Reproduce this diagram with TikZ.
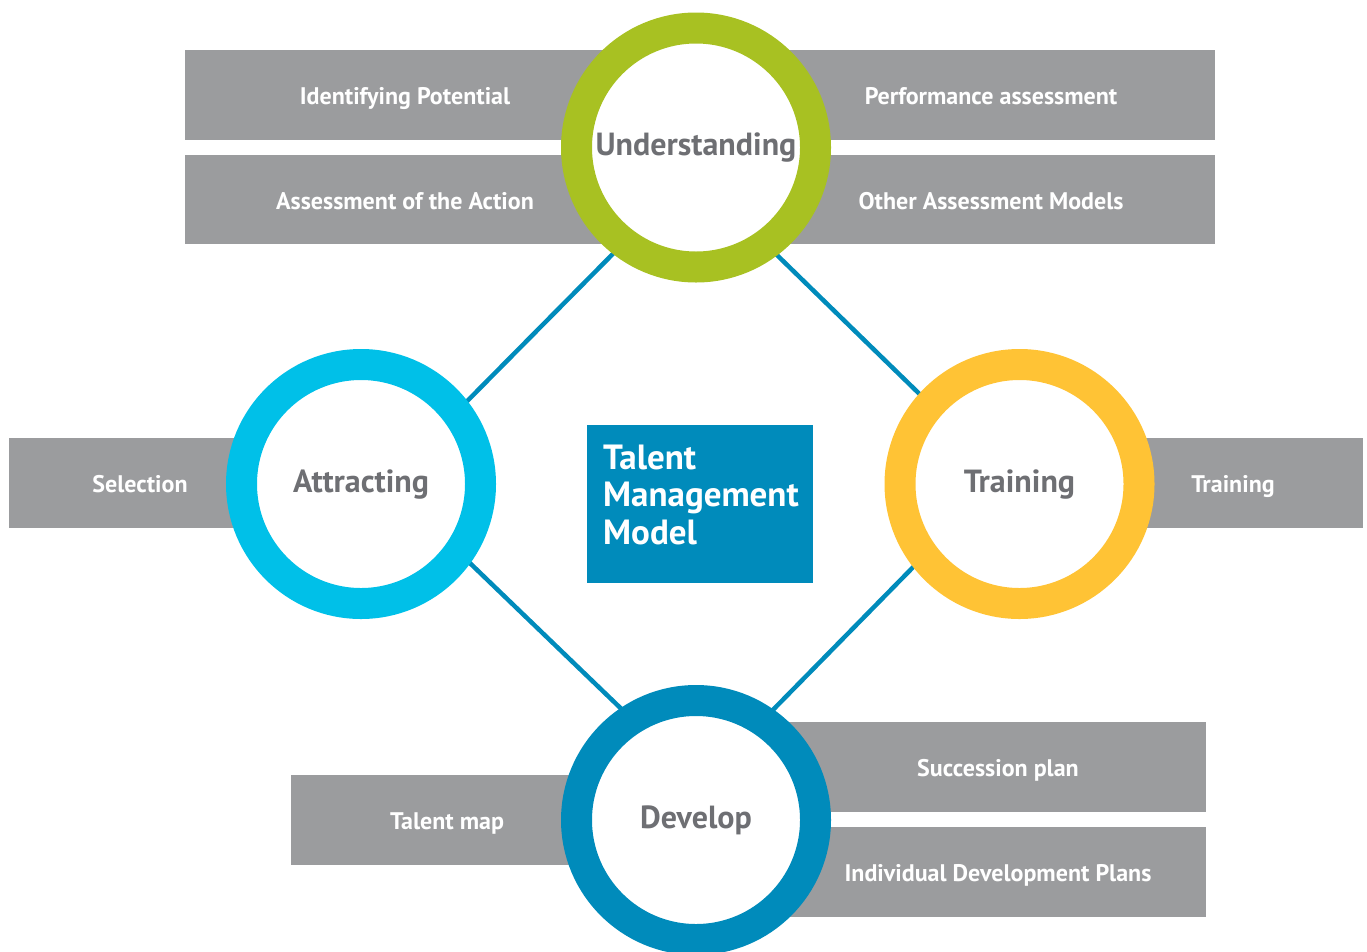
\documentclass[tikz,border=0pt]{standalone}
\usepackage{fontspec}
\setmainfont{PT Sans}
\usetikzlibrary{backgrounds}
\definecolor{bargray}{HTML}{9B9C9E}
\definecolor{ringgreen}{HTML}{A8C122}
\definecolor{ringcyan}{HTML}{00C0E8}
\definecolor{ringyellow}{HTML}{FFC335}
\definecolor{ringblue}{HTML}{008BBB}
\definecolor{labelgray}{HTML}{6E6F73}
\tikzset{
  bar/.style={fill=bargray, draw=none},
  bartext/.style={text=white, font=\fontsize{24}{28}\selectfont\bfseries, inner sep=0pt,
     text height=19pt, text depth=0pt},
  ring/.style={circle, draw=#1, line width=31pt, fill=white, minimum size=239pt, inner sep=0pt,
     text=labelgray, font=\fontsize{32}{36}\selectfont\bfseries, text height=16pt, text depth=0pt},
  link/.style={draw=ringblue, line width=4.5pt, shorten <=-12pt, shorten >=-12pt},
}
\begin{document}
\begin{tikzpicture}[x=1pt,y=-1pt]
\useasboundingbox (0,0) rectangle (1367,951);
% bars
\fill[bar] (185,50) rectangle (640,140);
\fill[bar] (185,155) rectangle (640,244);
\fill[bar] (760,50) rectangle (1215,140);
\fill[bar] (760,155) rectangle (1215,244);
\fill[bar] (9,438) rectangle (280,528);
\fill[bar] (1100,438) rectangle (1363,528);
\fill[bar] (291,775) rectangle (650,865);
\fill[bar] (740,722) rectangle (1206,812);
\fill[bar] (740,827) rectangle (1206,917);
% bar texts
\node[bartext] (t1) at (405,95) {Identifying Potential};
\node[bartext] (t2) at (405,199.5) {Assessment of the Action};
\node[bartext] (t3) at (991,95) {Performance assessment};
\node[bartext] (t4) at (991,199.5) {Other Assessment Models};
\node[bartext] (t5) at (140,483) {Selection};
\node[bartext] (t6) at (1233,483) {Training};
\node[bartext] (t7) at (447,820) {Talent map};
\node[bartext] (t8) at (998,767) {Succession plan};
\node[bartext] (t9) at (998,872) {Individual Development Plans};
% rings
\node[ring=ringgreen] (und) at (696,147.5) {Understanding};
\node[ring=ringcyan] (att) at (361,484) {Attracting};
\node[ring=ringyellow] (tra) at (1019.5,484) {Training};
\node[ring=ringblue] (dev) at (696,820) {Develop};
% center box
\node[fill=ringblue, minimum width=226pt, minimum height=158pt, inner sep=0pt] (box) at (700,504) {};
\node[text=white, anchor=base west, inner sep=0pt, text width=215pt, align=left,
  font=\fontsize{35}{37.5}\selectfont\bfseries] (boxtext) at (603,469)
  {Talent\\Management\\Model};
% links
\begin{scope}[on background layer]
\draw[link] (und.232.3) -- (att.38.8);
\draw[link] (und.307.2) -- (tra.138.4);
\draw[link] (att.324.6) -- (dev.124.9);
\draw[link] (tra.218.9) -- (dev.55.7);
\end{scope}
\end{tikzpicture}
\end{document}
